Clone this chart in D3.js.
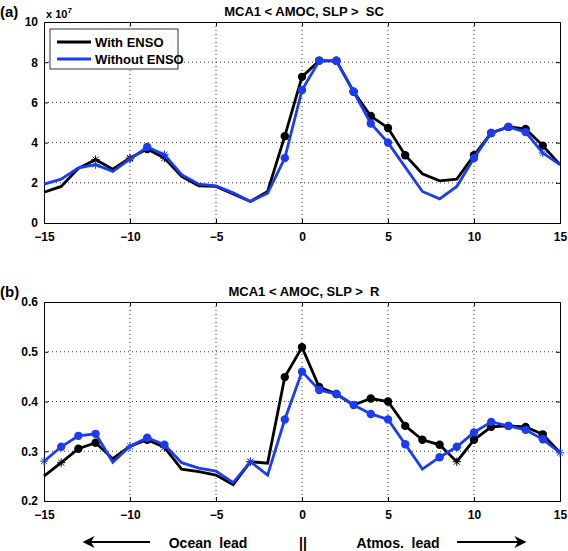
<!DOCTYPE html>
<html><head><meta charset="utf-8">
<script src="https://cdn.jsdelivr.net/npm/d3@7"></script>
<style>body{margin:0;background:#fff}svg text{font-family:"Liberation Sans",Arial,sans-serif;font-weight:bold;white-space:pre}</style>
</head><body><svg id="c" width="568" height="551"></svg>
<script>
const lags = d3.range(-15, 16);
// Panel (a): squared covariance (x 1e7)
const scWith    = [1.53,1.82,2.72,3.15,2.68,3.23,3.68,3.23,2.32,1.85,1.82,1.45,1.07,1.57,4.32,7.27,8.08,8.07,6.53,5.32,4.73,3.37,2.45,2.1,2.18,3.37,4.48,4.78,4.68,3.85,2.9];
const scWithout = [1.93,2.18,2.74,2.9,2.57,3.18,3.78,3.4,2.4,1.93,1.85,1.5,1.07,1.48,3.23,6.62,8.07,8.07,6.53,4.95,4.0,2.78,1.57,1.2,1.82,3.23,4.48,4.78,4.52,3.48,2.9];
const scWithMk    = ["","","","*","","*","o","*","","","","","","","o","o","o","o","o","o","o","o","","","","o","o","o","o","o",""];
const scWithoutMk = ["","","","*","","*","o","*","","","","","","","o","o","o","o","o","o","o","","","","","o","o","o","o","*",""];
// Panel (b): correlation R
const rWith    = [0.250,0.277,0.305,0.317,0.285,0.310,0.323,0.308,0.264,0.259,0.252,0.233,0.279,0.276,0.449,0.509,0.429,0.415,0.393,0.406,0.400,0.351,0.323,0.313,0.279,0.323,0.349,0.351,0.349,0.334,0.297];
const rWithout = [0.280,0.309,0.331,0.335,0.278,0.310,0.327,0.313,0.277,0.266,0.260,0.237,0.279,0.252,0.364,0.460,0.423,0.415,0.393,0.375,0.364,0.314,0.264,0.288,0.309,0.338,0.359,0.351,0.343,0.324,0.297];
const rWithMk    = ["","*","o","o","","","o","*","","","","","*","","o","o","o","o","","o","o","o","o","o","*","o","o","o","o","o",""];
const rWithoutMk = ["*","o","o","o","","*","o","o","","","","","*","","o","o","o","o","o","o","o","o","","o","o","o","o","o","o","o","*"];
const xTicks = [-15,-10,-5,0,5,10,15];
const scTicks = [0,2,4,6,8,10];
const rTicks = [0.2,0.3,0.4,0.5,0.6];
const seriesNames = ["With ENSO","Without ENSO"];
const colors = ["#000000","#1a3cf5"];

const svg = d3.select("#c");
const x = d3.scaleLinear().domain([-15,15]).range([44,560]);

function panel(top, bottom, yDom, yTicks, yFmt, a, b, aMk, bMk, title, lab) {
  const y = d3.scaleLinear().domain(yDom).range([bottom, top]);
  const g = svg.append("g");
  g.selectAll(".gx").data(xTicks.slice(1,-1)).join("line")
    .attr("x1", d=>x(d)).attr("x2", d=>x(d)).attr("y1", top).attr("y2", bottom)
    .attr("stroke","#000").attr("stroke-width",0.8).attr("stroke-dasharray","1,3");
  g.selectAll(".gy").data(yTicks.slice(1,-1)).join("line")
    .attr("y1", d=>y(d)).attr("y2", d=>y(d)).attr("x1", x(-15)).attr("x2", x(15))
    .attr("stroke","#000").attr("stroke-width",0.8).attr("stroke-dasharray","1,3");
  const ax = g.append("g").attr("transform",`translate(0,${bottom})`)
    .call(d3.axisBottom(x).tickValues(xTicks).tickSize(-4).tickPadding(9).tickFormat(d=>d<0?"\u2212"+(-d):d));
  const axT = g.append("g").attr("transform",`translate(0,${top})`)
    .call(d3.axisTop(x).tickValues(xTicks).tickSize(-4).tickFormat(""));
  const ay = g.append("g").attr("transform",`translate(${x(-15)},0)`)
    .call(d3.axisLeft(y).tickValues(yTicks).tickSize(-4).tickPadding(6).tickFormat(yFmt));
  const ayR = g.append("g").attr("transform",`translate(${x(15)},0)`)
    .call(d3.axisRight(y).tickValues(yTicks).tickSize(-4).tickFormat(""));
  [ax,axT,ay,ayR].forEach(s=>{
    s.select(".domain").attr("stroke","#000").attr("stroke-width",1);
    s.selectAll(".tick line").attr("stroke","#000");
    s.selectAll("text").attr("fill","#000").style("font-size","12px").style("font-weight","bold");
  });
  const line = d3.line().x((d,i)=>x(lags[i])).y(d=>y(d));
  [[a,aMk,colors[0]],[b,bMk,colors[1]]].forEach(([vals,mk,col])=>{
    g.append("path").datum(vals).attr("d",line).attr("fill","none")
      .attr("stroke",col).attr("stroke-width",2.8).attr("stroke-linejoin","miter");
    vals.forEach((v,i)=>{
      if (mk[i]==="o") {
        g.append("circle").attr("cx",x(lags[i])).attr("cy",y(v)).attr("r",4.2).attr("fill",col);
      } else if (mk[i]==="*") {
        const cx=x(lags[i]), cy=y(v), r=4.2;
        for (let k=0;k<4;k++){
          const ang=k*Math.PI/4;
          g.append("line").attr("x1",cx-r*Math.cos(ang)).attr("y1",cy-r*Math.sin(ang))
            .attr("x2",cx+r*Math.cos(ang)).attr("y2",cy+r*Math.sin(ang))
            .attr("stroke",col).attr("stroke-width",1);
        }
      }
    });
  });
  svg.append("text").attr("x",304).attr("y",top-6).attr("text-anchor","middle")
    .style("font-size","13px").text(title);
  svg.append("text").attr("x",0).attr("y",top-5).style("font-size","15px").text(lab);
  return y;
}

panel(22, 223, [0,10], scTicks, d=>d, scWith, scWithout, scWithMk, scWithoutMk, "MCA1 < AMOC, SLP >  SC", "(a)");
panel(302, 501, [0.2,0.6], rTicks, d3.format(".1f"), rWith, rWithout, rWithMk, rWithoutMk, "MCA1 < AMOC, SLP >  R", "(b)");

const ex = svg.append("text").attr("x",46).attr("y",18).style("font-size","11px");
ex.append("tspan").text("x 10");
ex.append("tspan").attr("dy",-5).style("font-size","8px").text("7");

const lg = svg.append("g");
lg.append("rect").attr("x",50).attr("y",29).attr("width",128).attr("height",40)
  .attr("fill","#fff").attr("stroke","#000").attr("stroke-width",0.8);
seriesNames.forEach((n,i)=>{
  const yy = 42 + i*17;
  lg.append("line").attr("x1",57).attr("x2",91).attr("y1",yy).attr("y2",yy)
    .attr("stroke",colors[i]).attr("stroke-width",2.8);
  lg.append("text").attr("x",95).attr("y",yy+4.5).style("font-size","13px").text(n);
});

const defs = svg.append("defs");
defs.append("marker").attr("id","ah").attr("viewBox","0 0 10 10").attr("refX",8).attr("refY",5)
  .attr("markerWidth",6).attr("markerHeight",6).attr("orient","auto-start-reverse")
  .append("path").attr("d","M0,0 L10,5 L0,10 L3,5 Z").attr("fill","#000");
svg.append("line").attr("x1",150).attr("x2",85).attr("y1",542).attr("y2",542)
  .attr("stroke","#000").attr("stroke-width",2).attr("marker-end","url(#ah)");
svg.append("line").attr("x1",457).attr("x2",524).attr("y1",542).attr("y2",542)
  .attr("stroke","#000").attr("stroke-width",2).attr("marker-end","url(#ah)");
svg.append("text").attr("x",208).attr("y",548).attr("text-anchor","middle").style("font-size","14px").text("Ocean  lead");
svg.append("text").attr("x",303).attr("y",548).attr("text-anchor","middle").style("font-size","14px").text("||");
svg.append("text").attr("x",398).attr("y",548).attr("text-anchor","middle").style("font-size","14px").text("Atmos.  lead");
</script></body></html>
